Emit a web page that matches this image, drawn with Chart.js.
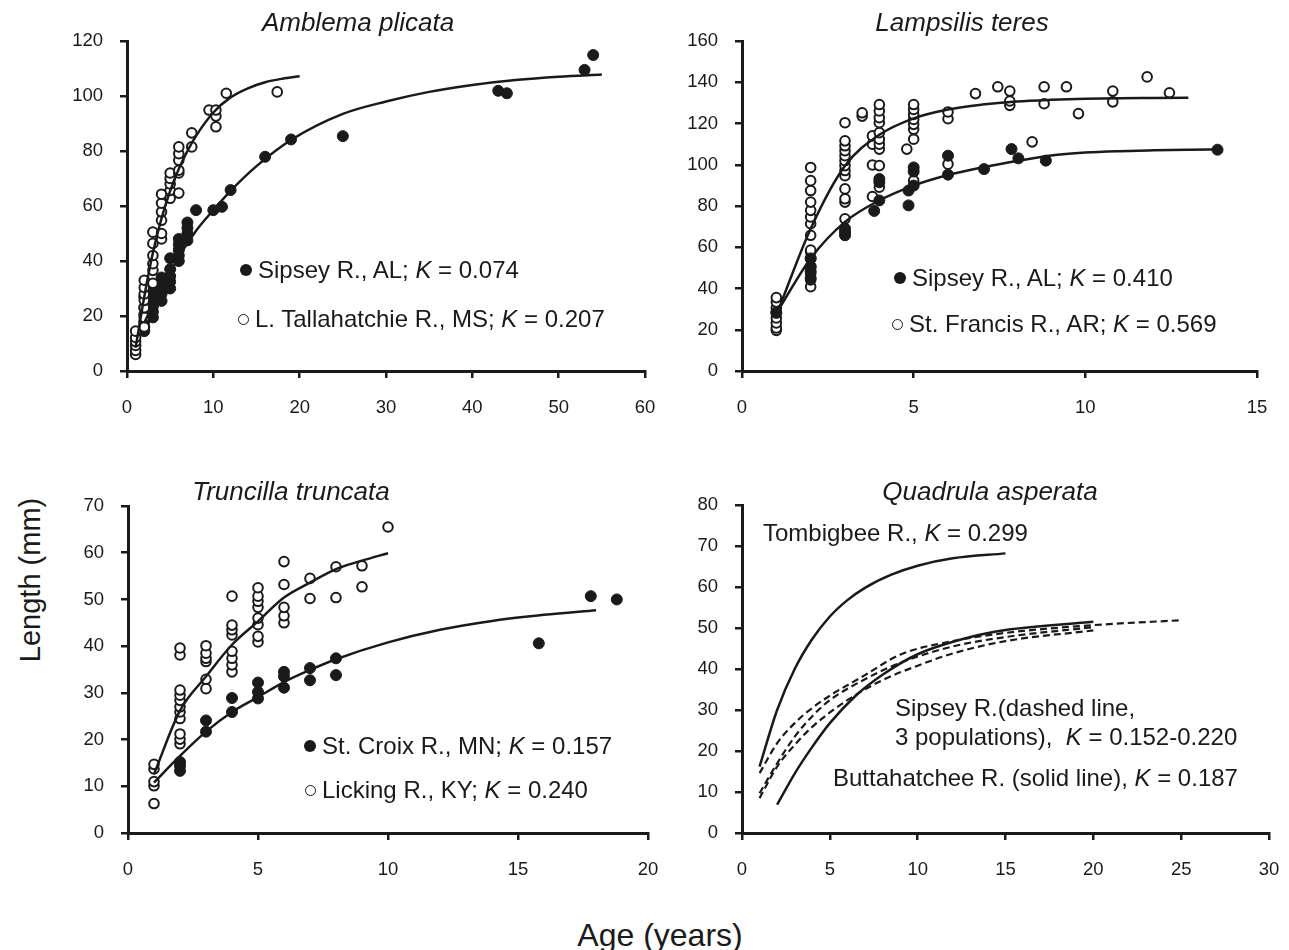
<!DOCTYPE html>
<html>
<head>
<meta charset="utf-8">
<script src="https://cdn.jsdelivr.net/npm/chart.js@4.4.1/dist/chart.umd.min.js"></script>
<style>
    body { margin: 0; background: #fff; }
    #wrap { position: relative; width: 1289px; height: 950px; overflow: hidden;
            font-family: "Liberation Sans", Arial, sans-serif; color: #1a1a1a; }
    canvas { position: absolute; }
    .lbl { position: absolute; white-space: nowrap; font-size: 24px; line-height: 24px;
           transform: translate(0, -50%); }
    .ttl { position: absolute; white-space: nowrap; font-size: 26px; line-height: 26px;
           font-style: italic; transform: translate(-50%, -50%); }
    .axt { position: absolute; white-space: nowrap; font-size: 32px; line-height: 32px;
           transform: translate(-50%, -50%); }
    .dot { display: inline-block; width: 12px; height: 12px; border-radius: 50%;
           background: #1a1a1a; margin-right: 6px; vertical-align: 2px; }
    .ring { display: inline-block; width: 9px; height: 9px; border-radius: 50%;
            border: 1.5px solid #1a1a1a; background: #fff; margin-right: 6px; vertical-align: 2px; }
</style>
</head>
<body>
<div id="wrap">
    <canvas id="c1" width="604" height="399" style="left:57px;top:27px"></canvas>
    <canvas id="c2" width="601" height="399" style="left:672px;top:27px"></canvas>
    <canvas id="c3" width="606" height="396" style="left:58px;top:492px"></canvas>
    <canvas id="c4" width="613" height="397" style="left:672px;top:491px"></canvas>

    <div class="ttl" style="left:358px;top:22px">Amblema plicata</div>
    <div class="lbl" style="left:240px;top:270px"><span class="dot"></span>Sipsey R., AL; <i>K</i> = 0.074</div>
    <div class="lbl" style="left:238px;top:319px"><span class="ring"></span>L. Tallahatchie R., MS; <i>K</i> = 0.207</div>

    <div class="ttl" style="left:962px;top:22px">Lampsilis teres</div>
    <div class="lbl" style="left:894px;top:278px"><span class="dot"></span>Sipsey R., AL; <i>K</i> = 0.410</div>
    <div class="lbl" style="left:892px;top:324px"><span class="ring"></span>St. Francis R., AR; <i>K</i> = 0.569</div>

    <div class="ttl" style="left:291px;top:491px">Truncilla truncata</div>
    <div class="lbl" style="left:304px;top:746px"><span class="dot"></span>St. Croix R., MN; <i>K</i> = 0.157</div>
    <div class="lbl" style="left:305px;top:790px"><span class="ring"></span>Licking R., KY; <i>K</i> = 0.240</div>

    <div class="ttl" style="left:990px;top:491px">Quadrula asperata</div>
    <div class="lbl" style="left:763px;top:533px">Tombigbee R., <i>K</i> = 0.299</div>
    <div class="lbl" style="left:895px;top:708px">Sipsey R.(dashed line,</div>
    <div class="lbl" style="left:895px;top:737px">3 populations),&nbsp; <i>K</i> = 0.152-0.220</div>
    <div class="lbl" style="left:833px;top:778px">Buttahatchee R. (solid line), <i>K</i> = 0.187</div>

    <div class="axt" style="left:30px;top:580px;font-size:29px;transform:translate(-50%,-50%) rotate(-90deg)">Length (mm)</div>
    <div class="axt" style="left:660px;top:935px">Age (years)</div>
</div>
<script>
    // ---- Amblema plicata ----
    var ampSipseyAge = [2, 2, 2, 2, 2, 2, 3, 3, 3, 3, 3, 4, 4, 4, 4, 5, 5, 5, 5, 5, 6, 6, 6, 6, 6,
        7, 7, 7, 7, 8, 10, 11, 12, 16, 19, 25, 43, 44, 53, 54];
    var ampSipseyLen = [14.5, 16, 18, 20.5, 23, 27, 19.5, 21.5, 23.5, 26, 29, 25.5, 28, 31, 34,
        30, 32.5, 34.5, 37, 41, 40, 42, 44, 46, 48, 47.5, 50, 52, 54, 58.5, 58.5, 59.7, 65.8,
        77.9, 84.2, 85.4, 101.9, 101, 109.5, 114.9];
    var ampTallaAge = [1, 1, 1, 1, 1, 1, 2, 2, 2, 2, 2, 2, 2, 3, 3, 3, 3, 3, 3, 4, 4, 4, 4, 4, 4,
        5, 5, 5, 5, 5, 6, 6, 6, 6, 6, 6, 7.5, 7.5, 9.5, 10.3, 10.3, 10.3, 11.5, 17.4];
    var ampTallaLen = [6, 7.5, 9.3, 10.7, 12.2, 14.5, 16, 19.5, 23, 25.7, 28, 30.4, 33,
        31.9, 36.6, 39, 42, 46.4, 50.5, 48, 50, 54.8, 57.9, 61, 64.3, 62.8, 65.7, 68, 70, 72,
        64.7, 72, 73, 76.6, 79, 81.5, 81.5, 86.6, 94.9, 88.8, 92.7, 94.9, 101, 101.5];
    var ampSipseyFitAge = [2, 3, 4, 6, 8, 10, 12, 15, 19, 25, 30, 35, 40, 45, 50, 55];
    var ampSipseyFitLen = [17.5, 24, 30, 41.5, 51, 58.5, 65.5, 74.5, 84, 93.5, 98, 101.5, 104, 105.8, 107, 107.8];
    var ampTallaFitAge = [1, 2, 3, 4, 5, 6, 7, 8, 10, 12, 14, 16, 18, 20];
    var ampTallaFitLen = [8.5, 27, 43, 55.5, 65.5, 73.5, 80, 85.5, 94, 99.5, 102.8, 105, 106.3, 107.2];

    // ---- Lampsilis teres ----
    var ltSipseyAge = [1, 2, 2, 2, 2, 3, 3, 3, 3.85, 4, 4, 4, 4.85, 4.85, 5, 5, 5, 6, 6,
        7.05, 7.85, 8.05, 8.85, 13.85];
    var ltSipseyLen = [28.4, 45, 48.3, 50.6, 54.6, 65.8, 67.4, 69, 77.6, 82.7, 91.5, 93.1,
        80.3, 87.5, 89.9, 96.7, 98.7, 95.2, 104.4, 97.9, 107.6, 103.1, 102, 107.3];
    var ltFrancisAge = [1, 1, 1, 1, 1, 1, 1, 1,
        2, 2, 2, 2, 2, 2, 2, 2, 2, 2, 2, 2, 2, 2, 2,
        3, 3, 3, 3, 3, 3, 3, 3, 3, 3, 3, 3, 3,
        3.5, 3.5, 3.8, 3.8, 3.8, 3.8,
        4, 4, 4, 4, 4, 4, 4, 4, 4, 4, 4.8,
        5, 5, 5, 5, 5, 5, 5, 5, 6, 6, 6, 6.8, 7.45, 7.8, 7.8, 7.8, 8.45, 8.8, 8.8,
        9.45, 9.8, 10.8, 10.8, 11.8, 12.45];
    var ltFrancisLen = [19.7, 20.9, 23.3, 25.7, 28.1, 30.5, 33.4, 35.6,
        40.9, 44.2, 47.3, 50.6, 54.6, 57.8, 58.6, 65.8, 71.4, 74.7, 77.9, 81.9, 87.5, 92.3, 98.7,
        73.8, 81.9, 83.5, 88.3, 94.7, 97.2, 99.6, 102, 104.4, 106.8, 109.2, 111.6, 120.4,
        123.6, 125.2, 84.6, 99.9, 110, 114,
        89.1, 99.6, 107.6, 110, 112.4, 115.6, 120.4, 122.8, 126.1, 129.2, 107.6,
        92.3, 112.4, 117.2, 119.6, 122, 124.4, 126.8, 129.2, 100.3, 122.3, 125.6, 134.5, 137.8,
        128.8, 130.9, 135.7, 111.1, 129.6, 137.8, 137.8, 124.8, 130.5, 135.7, 142.6, 134.9];
    var ltSipseyFitAge = [1, 2, 3, 4, 5, 6, 7, 8, 9, 10, 11, 12, 13, 13.9];
    var ltSipseyFitLen = [28, 54.6, 72.3, 82.7, 89.9, 95, 98.7, 101.8, 104.5, 105.9, 106.6, 107, 107.3, 107.5];
    var ltFrancisFitAge = [1, 2, 3, 4, 5, 6, 7, 8, 9, 10, 11, 12, 13];
    var ltFrancisFitLen = [27, 69, 99.5, 114.5, 122.5, 126.8, 129.2, 130.7, 131.5, 132, 132.3, 132.4, 132.5];

    // ---- Truncilla truncata ----
    var ttCroixAge = [2, 2, 2, 3, 3, 4, 4, 5, 5, 5, 6, 6, 6, 7, 7, 8, 8, 15.8, 17.8, 18.8];
    var ttCroixLen = [13.3, 14.4, 15.2, 21.7, 24.1, 25.9, 28.9, 28.8, 30.2, 32.2, 31.1, 33.5,
        34.5, 32.7, 35.3, 33.8, 37.4, 40.6, 50.7, 50];
    var ttLickingAge = [1, 1, 1, 1, 1, 2, 2, 2, 2, 2, 2, 2, 2, 2, 2, 2, 3, 3, 3, 3, 3, 3,
        4, 4, 4, 4, 4, 4, 4, 4, 5, 5, 5, 5, 5, 5, 5, 5, 6, 6, 6, 6, 6, 7, 7, 8, 8, 9, 9, 10];
    var ttLickingLen = [6.3, 10.1, 11, 13.7, 14.7, 19.1, 20.1, 21.2, 24.5, 25.9, 27, 28.4,
        29.5, 30.6, 38.1, 39.6, 30.9, 32.9, 36.7, 37.4, 38.5, 40.1, 34.5, 36, 37.4, 38.9, 42.4,
        43.5, 44.5, 50.7, 40.9, 42.1, 44.6, 46, 48.3, 49.6, 50.7, 52.5, 45, 46.5, 48.3, 53.2,
        58.1, 50.2, 54.5, 50.4, 57, 52.7, 57.2, 65.5];
    var ttCroixFitAge = [1, 2, 3, 4, 5, 6, 7, 8, 10, 12, 14, 16, 18];
    var ttCroixFitLen = [10.8, 16.5, 21.7, 25.9, 29.1, 32.3, 34.9, 37.2, 40.8, 43.5, 45.4, 46.7, 47.7];
    var ttLickingFitAge = [1, 2, 3, 4, 5, 6, 7, 8, 9, 10];
    var ttLickingFitLen = [12.6, 26.2, 33.5, 40.3, 45.3, 50.4, 53.6, 56.5, 58.3, 59.9];

    // ---- Quadrula asperata (fitted curves only) ----
    var qaTombigbeeAge = [1, 2, 3, 4, 5, 6, 7, 8.5, 10, 12, 15];
    var qaTombigbeeLen = [16.2, 30, 40, 47.3, 52.8, 56.8, 59.8, 63, 65.2, 67, 68.2];
    var qaButtaAge = [2, 3, 4, 5, 6.5, 8, 10, 13, 15, 20];
    var qaButtaLen = [6.9, 14.5, 21, 26.8, 33.6, 38.6, 43.6, 47.8, 49.5, 51.5];
    var qaSipsey1Age = [1, 2, 3, 4, 5, 7, 9, 12, 15, 20, 25];
    var qaSipsey1Len = [14.6, 21.9, 26.8, 30.5, 33.5, 38.5, 43.5, 46.8, 48.8, 50.7, 51.9];
    var qaSipsey2Age = [1, 2, 3, 4, 5, 7, 9, 12, 15, 20];
    var qaSipsey2Len = [9.7, 17, 23.5, 28.5, 32.4, 37.5, 41.5, 45.5, 47.8, 50.2];
    var qaSipsey3Age = [1, 2, 3, 4, 6, 8, 10, 12, 15, 20];
    var qaSipsey3Len = [8.5, 16.2, 21.5, 25.9, 32.4, 37.3, 40.8, 43.8, 46.8, 49.4];

    var INK = '#1a1a1a';
    var FONT = '"Liberation Sans", Arial, sans-serif';

    function zip(xs, ys) {
        return xs.map(function(x, i) { return { x: x, y: ys[i] }; });
    }

    function fitLine(xs, ys, dashed) {
        return {
            data: zip(xs, ys),
            showLine: true,
            borderColor: INK,
            borderWidth: dashed ? 2.2 : 2.5,
            borderDash: dashed ? [7, 4] : [],
            pointRadius: 0,
            fill: false,
            cubicInterpolationMode: 'monotone'
        };
    }

    function dots(xs, ys, open) {
        return {
            data: zip(xs, ys),
            showLine: false,
            pointRadius: open ? 4.8 : 5.5,
            pointBorderWidth: open ? 2 : 1,
            pointBackgroundColor: open ? '#fff' : INK,
            pointBorderColor: INK
        };
    }

    function axis(max, step, isX) {
        return {
            type: 'linear',
            min: 0,
            max: max,
            ticks: {
                stepSize: step,
                autoSkip: false,
                maxRotation: 0,
                color: INK,
                padding: isX ? 19 : 17,
                font: { family: FONT, size: 18.5 }
            },
            grid: { drawOnChartArea: false, tickLength: 7, color: INK, lineWidth: 2.5 },
            border: { color: INK, width: 3 },
            afterFit: function(scale) {
                // fixed axis sizes, and no extra edge padding, so the plot area lands where we want it
                if (isX) { scale.height = 55; } else { scale.width = 70; }
                scale.paddingTop = 0;
                scale.paddingBottom = 0;
                scale.paddingLeft = 0;
                scale.paddingRight = 0;
            }
        };
    }

    function makeChart(id, xMax, xStep, yMax, yStep, datasets) {
        var ctx = document.getElementById(id).getContext('2d');
        return new Chart(ctx, {
            type: 'scatter',
            data: { datasets: datasets },
            options: {
                responsive: false,
                animation: false,
                layout: { padding: { top: 14, right: 16, left: 0, bottom: 0 } },
                plugins: { legend: { display: false }, tooltip: { enabled: false } },
                scales: { x: axis(xMax, xStep, true), y: axis(yMax, yStep, false) }
            }
        });
    }

    // lines first so they sit on top of the markers
    makeChart('c1', 60, 10, 120, 20, [
        fitLine(ampSipseyFitAge, ampSipseyFitLen),
        fitLine(ampTallaFitAge, ampTallaFitLen),
        dots(ampTallaAge, ampTallaLen, true),
        dots(ampSipseyAge, ampSipseyLen, false)
    ]);

    makeChart('c2', 15, 5, 160, 20, [
        fitLine(ltSipseyFitAge, ltSipseyFitLen),
        fitLine(ltFrancisFitAge, ltFrancisFitLen),
        dots(ltSipseyAge, ltSipseyLen, false),
        dots(ltFrancisAge, ltFrancisLen, true)
    ]);

    makeChart('c3', 20, 5, 70, 10, [
        fitLine(ttCroixFitAge, ttCroixFitLen),
        fitLine(ttLickingFitAge, ttLickingFitLen),
        dots(ttCroixAge, ttCroixLen, false),
        dots(ttLickingAge, ttLickingLen, true)
    ]);

    makeChart('c4', 30, 5, 80, 10, [
        fitLine(qaTombigbeeAge, qaTombigbeeLen),
        fitLine(qaButtaAge, qaButtaLen),
        fitLine(qaSipsey1Age, qaSipsey1Len, true),
        fitLine(qaSipsey2Age, qaSipsey2Len, true),
        fitLine(qaSipsey3Age, qaSipsey3Len, true)
    ]);
</script>
</body>
</html>
